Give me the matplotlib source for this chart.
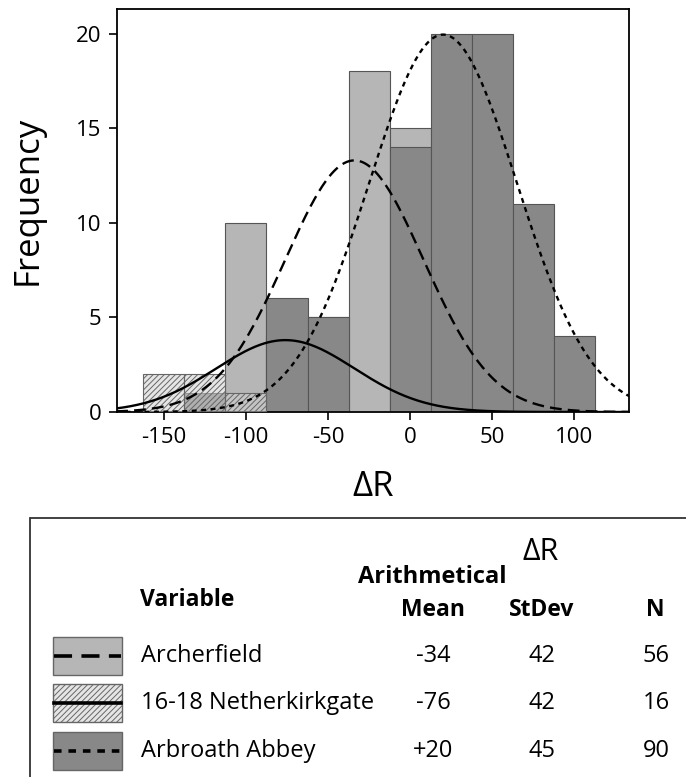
import numpy as np
import matplotlib
matplotlib.use('Agg')
import matplotlib.pyplot as plt
from matplotlib.patches import Rectangle
from matplotlib.lines import Line2D

plt.rcParams['font.family'] = ['Open Sans', 'DejaVu Sans']
plt.rcParams['hatch.linewidth'] = 0.7
plt.rcParams['axes.unicode_minus'] = False

# bin centres (bin width 25)
bin_centres = [-150, -125, -100, -75, -50, -25, 0, 25, 50, 75, 100]
bin_width = 25

# visible bar heights per group
archerfield = [0, 0, 10, 4, 5, 18, 15, 3, 1, 0, 0]
netherkirkgate = [2, 2, 1, 0, 0, 0, 0, 0, 0, 0, 0]
arbroath = [0, 1, 0, 6, 5, 0, 14, 20, 20, 11, 4]

# table values
names = ['Archerfield', '16-18 Netherkirkgate', 'Arbroath Abbey']
means = [-34, -76, 20]
mean_labels = ['-34', '-76', '+20']
stdevs = [42, 42, 45]
counts = [56, 16, 90]

light = '#b6b6b6'
dark = '#888888'
hatchface = (0.82, 0.82, 0.82, 0.55)
edge = '#555555'
styles = [(0, (5, 2.6)), '-', (0, (2.1, 1.9))]

W, H = 686, 777
fig = plt.figure(figsize=(W / 100, H / 100), dpi=100)

def fx(px):
    return px / W

def fy(py):
    return 1 - py / H

ax = fig.add_axes([fx(117), fy(412), fx(629) - fx(117), fy(9) - fy(412)])

ax.bar(bin_centres, archerfield, width=bin_width, color=light, edgecolor=edge, linewidth=0.8, zorder=1)
ax.bar(bin_centres, arbroath, width=bin_width, color=dark, edgecolor=edge, linewidth=0.8, zorder=2)
ax.bar(bin_centres, netherkirkgate, width=bin_width, color=hatchface, edgecolor='#666666',
       hatch='//////', linewidth=0.8, zorder=3)

# fitted normal curves from the table values
xs = np.linspace(-179, 134, 400)
for m, s, n, ls in zip(means, stdevs, counts, styles):
    ys = n * bin_width / (s * np.sqrt(2 * np.pi)) * np.exp(-0.5 * ((xs - m) / s) ** 2)
    ax.plot(xs, ys, color='black', linestyle=ls, linewidth=1.7, zorder=4)

ax.set_xlim(-178.5, 133.2)
ax.set_ylim(0, 21.3)
ax.set_xticks([-150, -100, -50, 0, 50, 100])
ax.set_yticks([0, 5, 10, 15, 20])
ax.tick_params(direction='out', length=6, width=1.2, labelsize=16, colors='black', pad=5)
for sp in ax.spines.values():
    sp.set_linewidth(1.3)
ax.set_xlabel('ΔR', fontsize=25)
ax.set_ylabel('Frequency', fontsize=25)
ax.xaxis.set_label_coords(0.5, (412 - 487) / 403)
ax.xaxis.label.set_va('center')
ax.yaxis.set_label_coords((28 - 117) / 512, (412 - 200) / 403)
ax.yaxis.label.set_va('center')

# legend / summary table
fig.patches.append(Rectangle((fx(30), fy(H + 20)), 1.2, fy(518) - fy(H + 20), transform=fig.transFigure,
                             fill=False, edgecolor='#333333', linewidth=1.3))

fig.text(fx(541), fy(552), 'ΔR', fontsize=22, ha='center', va='center')
fig.text(fx(432), fy(577), 'Arithmetical', fontsize=17, fontweight='bold', ha='center', va='center')
fig.text(fx(140), fy(600), 'Variable', fontsize=16.5, fontweight='bold', ha='left', va='center')
fig.text(fx(433), fy(610), 'Mean', fontsize=16.5, fontweight='bold', ha='center', va='center')
fig.text(fx(542), fy(610), 'StDev', fontsize=16.5, fontweight='bold', ha='center', va='center')
fig.text(fx(655), fy(610), 'N', fontsize=16.5, fontweight='bold', ha='center', va='center')

row_y = [656, 703, 751]
faces = [light, hatchface, dark]
hatches = [None, '//////', None]
for i in range(3):
    y = row_y[i]
    fig.patches.append(Rectangle((fx(53), fy(y + 19)), fx(122) - fx(53), fy(y - 19) - fy(y + 19),
                                 transform=fig.transFigure, facecolor=faces[i], edgecolor='#666666',
                                 hatch=hatches[i], linewidth=1))
    fig.lines.append(Line2D([fx(54), fx(121)], [fy(y), fy(y)], transform=fig.transFigure,
                            color='black', linestyle=styles[i], linewidth=2.6))
    fig.text(fx(141), fy(y), names[i], fontsize=17, ha='left', va='center')
    fig.text(fx(433), fy(y), mean_labels[i], fontsize=17, ha='center', va='center')
    fig.text(fx(542), fy(y), str(stdevs[i]), fontsize=17, ha='center', va='center')
    fig.text(fx(656), fy(y), str(counts[i]), fontsize=17, ha='center', va='center')

fig.savefig('out.png', dpi=100, facecolor='white')
